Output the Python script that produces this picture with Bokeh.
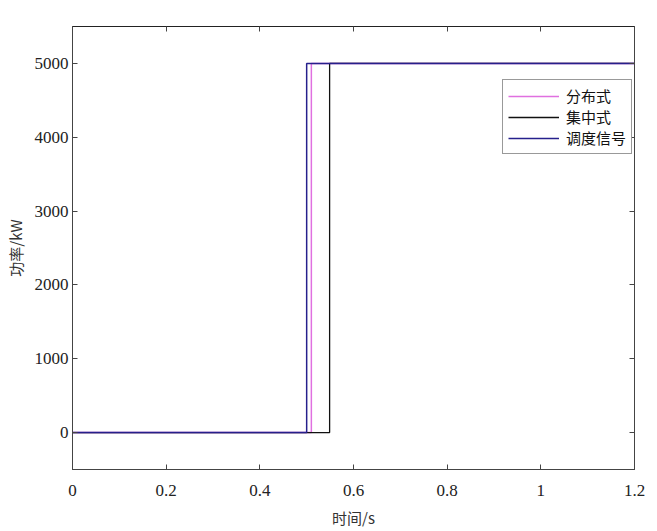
from bokeh.plotting import figure
from bokeh.models import Range1d, LinearAxis, Legend, LegendItem, FixedTicker
from bokeh.embed import file_html
from bokeh.resources import INLINE

# data
t_fenbu = [0.0, 0.51, 0.51, 1.2]
p_fenbu = [0, 0, 5000, 5000]
t_jizhong = [0.0, 0.549, 0.549, 1.2]
p_jizhong = [0, 0, 5000, 5000]
t_diaodu = [0.0, 0.5, 0.5, 1.2]
p_diaodu = [0, 0, 5000, 5000]
x_ticks = [0, 0.2, 0.4, 0.6, 0.8, 1.0, 1.2]
y_ticks = [0, 1000, 2000, 3000, 4000, 5000]
labels = ["分布式", "集中式", "调度信号"]

SERIF = "Liberation Serif"
CJK = "Noto Sans CJK SC"

p = figure(width=657, height=531, output_backend="svg", toolbar_location=None,
           x_range=Range1d(0, 1.2), y_range=Range1d(-500, 5500),
           min_border_left=72, min_border_right=23, min_border_top=26, min_border_bottom=62)
p.xgrid.visible = False
p.ygrid.visible = False
p.outline_line_color = "#222222"
p.outline_line_width = 1

r1 = p.line(t_fenbu, p_fenbu, line_color="#e070e0", line_width=1.5)
r2 = p.line(t_jizhong, p_jizhong, line_color="#111111", line_width=1.3)
r3 = p.line(t_diaodu, p_diaodu, line_color="#26208c", line_width=1.5)

for ax in p.xaxis:
    ax.ticker = FixedTicker(ticks=x_ticks)
    ax.major_label_overrides = {0: "0", 1.0: "1"}
for ax in p.yaxis:
    ax.ticker = FixedTicker(ticks=y_ticks)

def style(ax, show_labels=True):
    ax.axis_line_color = "#444444"
    ax.major_tick_line_color = "#444444"
    ax.major_tick_in = 5
    ax.major_tick_out = 0
    ax.minor_tick_line_color = None
    ax.major_label_text_font = SERIF
    ax.major_label_text_font_size = "17px"
    ax.major_label_text_color = "#222222"
    if not show_labels:
        ax.major_label_text_font_size = "0px"
        ax.major_label_text_alpha = 0

style(p.xaxis[0])
style(p.yaxis[0])
p.xaxis[0].major_label_standoff = 15
p.yaxis[0].major_label_standoff = 4
p.xaxis[0].axis_label = "时间/s"
p.yaxis[0].axis_label = "功率/kW"
for ax in (p.xaxis[0], p.yaxis[0]):
    ax.axis_label_text_font = CJK
    ax.axis_label_text_font_size = "15px"
    ax.axis_label_text_font_style = "normal"
    ax.axis_label_text_color = "#333333"
p.xaxis[0].axis_label_standoff = 8
p.yaxis[0].axis_label_standoff = 6

top = LinearAxis(ticker=FixedTicker(ticks=x_ticks))
right = LinearAxis(ticker=FixedTicker(ticks=y_ticks))
style(top, False)
style(right, False)
top.axis_line_color = "#222222"
p.add_layout(top, "above")
p.add_layout(right, "right")

legend = Legend(items=[LegendItem(label=labels[0], renderers=[r1]),
                       LegendItem(label=labels[1], renderers=[r2]),
                       LegendItem(label=labels[2], renderers=[r3])],
                location=(430, 315), orientation="vertical")
legend.label_text_font = CJK
legend.label_text_font_size = "15px"
legend.label_text_color = "#111111"
legend.glyph_width = 51
legend.glyph_height = 20
legend.label_height = 20
legend.label_standoff = 7
legend.spacing = 0
legend.padding = 5
legend.margin = 0
legend.border_line_color = "#333333"
legend.border_line_width = 1
legend.background_fill_color = "white"
legend.background_fill_alpha = 1
p.add_layout(legend, "center")

open("out.html", "w").write(file_html(p, INLINE))
